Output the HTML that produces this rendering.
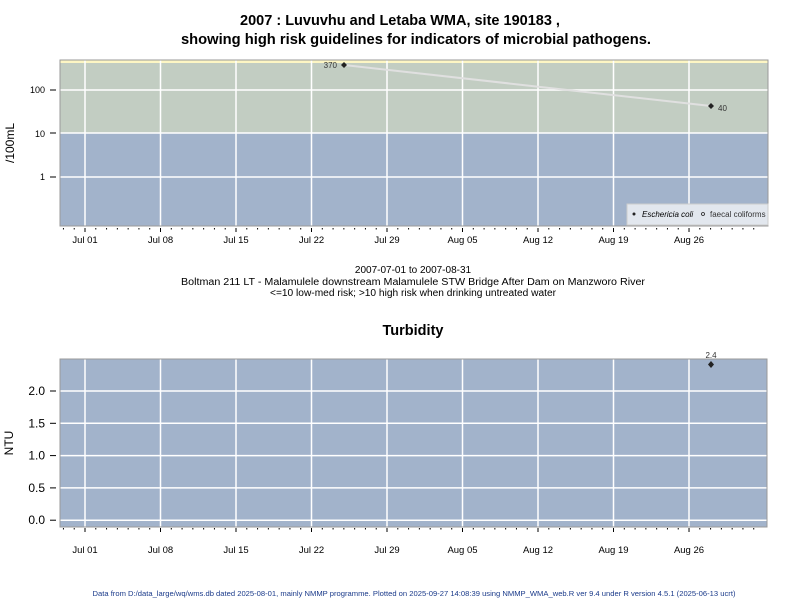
<!DOCTYPE html><html><head><meta charset="utf-8"><style>body{margin:0;background:#fff}svg{display:block;font-family:"Liberation Sans",sans-serif}</style></head><body>
<svg id="s" width="800" height="600" xmlns="http://www.w3.org/2000/svg">
<text x="400" y="25" text-anchor="middle" font-size="14.5" font-weight="bold">2007 : Luvuvhu and Letaba WMA, site 190183 ,</text>
<text x="416" y="44" text-anchor="middle" font-size="14.5" font-weight="bold" textLength="470" lengthAdjust="spacingAndGlyphs">showing high risk guidelines for indicators of microbial pathogens.</text>
<rect x="60" y="60" width="708" height="166" fill="#a2b3cb"/>
<rect x="60" y="60" width="708" height="73" fill="#c2cdc2"/>
<rect x="60" y="60" width="708" height="3" fill="#fdf6c4"/>
<g id="g1" stroke="#fff" stroke-width="1.5"></g>
<polyline points="344,65 711,106" fill="none" stroke="#e0e0e0" stroke-width="2"/>
<path d="M344,62 L347,65 L344,68 L341,65Z" fill="#222"/><path d="M711,103 L714,106 L711,109 L708,106Z" fill="#222"/>
<text x="337" y="68" text-anchor="end" font-size="8" fill="#333">370</text>
<text x="718" y="111" font-size="8" fill="#333">40</text>
<rect x="60" y="60" width="708" height="166" fill="none" stroke="#999"/>
<rect x="627" y="204" width="141" height="21" fill="#e2e7ee" stroke="#ccc"/>
<circle cx="634" cy="214" r="1.5" fill="#222"/><text x="642" y="217" font-size="8" font-style="italic">Eschericia coli</text>
<circle cx="703" cy="214" r="1.5" fill="none" stroke="#222" stroke-width="0.8"/><text x="710" y="217" font-size="8" fill="#333">faecal coliforms</text>
<text x="45" y="93" text-anchor="end" font-size="9">100</text>
<text x="45" y="137" text-anchor="end" font-size="9">10</text>
<text x="45" y="180" text-anchor="end" font-size="9">1</text>
<g stroke="#000"><line x1="50" x2="56" y1="90" y2="90"/><line x1="50" x2="56" y1="133" y2="133"/><line x1="50" x2="56" y1="177" y2="177"/></g>
<text transform="translate(14,143) rotate(-90)" text-anchor="middle" font-size="12">/100mL</text>
<text x="413" y="273" text-anchor="middle" font-size="10">2007-07-01 to 2007-08-31</text>
<text x="413" y="285" text-anchor="middle" font-size="10" textLength="464" lengthAdjust="spacingAndGlyphs">Boltman 211 LT - Malamulele downstream Malamulele STW Bridge After Dam on Manzworo River</text>
<text x="413" y="296" text-anchor="middle" font-size="10" textLength="286" lengthAdjust="spacingAndGlyphs">&lt;=10 low-med risk; &gt;10 high risk when drinking untreated water</text>
<text x="413" y="335" text-anchor="middle" font-size="14.5" font-weight="bold">Turbidity</text>
<rect x="60" y="359" width="707" height="168" fill="#a2b3cb"/>
<g id="g2" stroke="#fff" stroke-width="1.5"></g>
<rect x="60" y="359" width="707" height="168" fill="none" stroke="#999"/>
<path d="M711,361 L714,364.5 L711,368 L708,364.5Z" fill="#222"/>
<text x="711" y="358" text-anchor="middle" font-size="8" fill="#333">2.4</text>
<text transform="translate(13,443) rotate(-90)" text-anchor="middle" font-size="12">NTU</text>
<g id="g3" font-size="12"></g>
<text x="414" y="596" text-anchor="middle" font-size="7.5" fill="#1a3a8a" textLength="643" lengthAdjust="spacingAndGlyphs">Data from D:/data_large/wq/wms.db dated 2025-08-01, mainly NMMP programme. Plotted on 2025-09-27 14:08:39 using NMMP_WMA_web.R ver 9.4 under R version 4.5.1 (2025-06-13 ucrt)</text>
</svg>
<script>
var NS="http://www.w3.org/2000/svg",s=document.getElementById('s');
function el(p,t,a,txt){var e=document.createElementNS(NS,t);for(var k in a)e.setAttribute(k,a[k]);if(txt)e.textContent=txt;p.appendChild(e);return e;}
var g1=document.getElementById('g1'),g2=document.getElementById('g2'),g3=document.getElementById('g3');
var labs=["Jul 01","Jul 08","Jul 15","Jul 22","Jul 29","Aug 05","Aug 12","Aug 19","Aug 26"];
for(var i=0;i<9;i++){var x=85+i*75.5;
el(g1,'line',{x1:x,x2:x,y1:60,y2:226});el(g2,'line',{x1:x,x2:x,y1:359,y2:527});
el(s,'text',{x:x,y:243,'text-anchor':'middle','font-size':9.5},labs[i]);
el(s,'text',{x:x,y:553,'text-anchor':'middle','font-size':9.5},labs[i]);}
[90,133,177].forEach(function(y){el(g1,'line',{x1:60,x2:768,y1:y,y2:y});});
for(var d=-2;d<=62;d++){var x=85+d*10.786;if(x<61||x>767)continue;var big=d%7==0;
el(s,'line',{x1:x,x2:x,y1:228,y2:big?232:229.5,stroke:'#000'});
el(s,'line',{x1:x,x2:x,y1:528,y2:big?532:529.5,stroke:'#000'});}
var tv=["2.0","1.5","1.0","0.5","0.0"];
for(var j=0;j<5;j++){var y=391+j*32.3;el(g2,'line',{x1:60,x2:767,y1:y,y2:y});
el(s,'line',{x1:50,x2:56,y1:y,y2:y,stroke:'#000'});
el(g3,'text',{x:45,y:y+4,'text-anchor':'end'},tv[j]);}
</script>
</body></html>
